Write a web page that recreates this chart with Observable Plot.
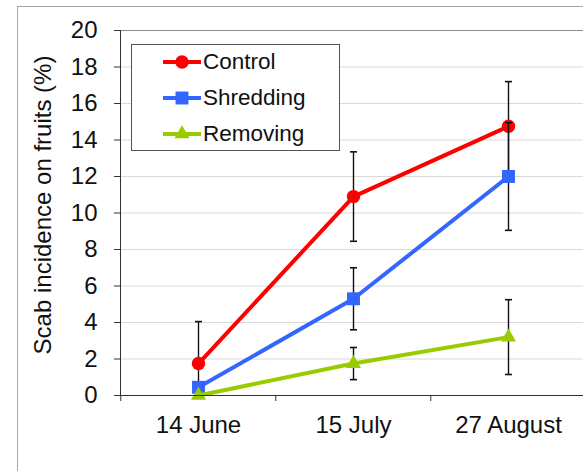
<!DOCTYPE html>
<html><head><meta charset="utf-8">
<script src="https://cdn.jsdelivr.net/npm/d3@7"></script>
<script src="https://cdn.jsdelivr.net/npm/@observablehq/plot@0.6"></script>
<style>
body{margin:0;background:#fff;font-family:"Liberation Sans",Arial,sans-serif;}
#wrap{position:relative;width:583px;height:471px;overflow:hidden;background:#fff;}
#chart{position:absolute;left:0;top:0;}
#border{position:absolute;left:17px;top:6px;width:700px;height:600px;border:1px solid #a6a6a6;}
#legend{position:absolute;left:131px;top:44px;width:209px;height:107px;border:1px solid #555;box-sizing:border-box;background:#fff;}
.row{position:absolute;left:31px;height:24px;display:flex;align-items:center;font-size:22.5px;color:#111;white-space:nowrap;}
.row svg{display:block;margin-right:2px;}
</style></head><body>
<div id="wrap"><div id="chart"></div><div id="border"></div><div id="legend"></div></div>
<script>
// ---- data ----
const dates = ["14 June", "15 July", "27 August"];
const seriesNames = ["Control", "Shredding", "Removing"];
const control = [1.75, 10.9, 14.75];
const controlErr = [2.3, 2.45, 2.45];
const shredding = [0.45, 5.3, 12.0];
const shreddingErr = [0.3, 1.7, 2.95];
const removing = [0, 1.75, 3.2];
const removingErr = [0, 0.88, 2.05];
const yTicks = [0, 2, 4, 6, 8, 10, 12, 14, 16, 18, 20];
const yTitle = "Scab incidence on fruits (%)";

// ---- styles ----
const colors = ["#ff0000", "#3366ff", "#99cc00"];
const symbols = ["circle", "square", "triangle"];
const radii = [6.7, 7.3, 5.6];

const values = [control, shredding, removing];
const errs = [controlErr, shreddingErr, removingErr];
const yMax = 20, yMin = 0;

const xLeft = 120, xRight = 586.5;
const bw = (xRight - xLeft) / dates.length;

const cap = {draw(ctx) { ctx.moveTo(-3.5, 0); ctx.lineTo(3.5, 0); }};

const marks = [
  Plot.gridY(yTicks, {stroke: "#d9d9d9", strokeOpacity: 1}),
  Plot.frame({anchor: "top", stroke: "#8c8c8c"}),
];

seriesNames.forEach((name, si) => {
  const pts = dates.map((d, i) => ({date: d, value: values[si][i], err: errs[si][i]}));
  const bars = pts.filter(p => p.err > 0).map(p => ({date: p.date, lo: Math.max(yMin, p.value - p.err), hi: Math.min(yMax, p.value + p.err), loIn: p.value - p.err >= yMin}));
  const caps = bars.flatMap(b => [{date: b.date, y: b.hi}].concat(b.loIn ? [{date: b.date, y: b.lo}] : []));
  marks.push(
    Plot.line(pts, {x: "date", y: "value", stroke: colors[si], strokeWidth: 4}),
    Plot.ruleX(bars, {x: "date", y1: "lo", y2: "hi", stroke: "#111", strokeWidth: 1.4}),
    Plot.dot(caps, {x: "date", y: "y", symbol: cap, stroke: "#111", strokeWidth: 1.6, r: 3}),
    Plot.dot(pts, {x: "date", y: "value", symbol: symbols[si], fill: colors[si], stroke: "none", r: radii[si]})
  );
});

marks.push(
  Plot.frame({anchor: "left", stroke: "#333"}),
  Plot.frame({anchor: "bottom", stroke: "#333"}),
  Plot.axisY({ticks: yTicks, tickSize: 6, tickPadding: 17, label: null, tickFormat: d => String(d), stroke: "#333", fontSize: 24}),
  Plot.axisX({tickSize: 0, tickPadding: 20, label: null, fontSize: 24}),
  Plot.axisX({tickSize: 6, tickFormat: () => "", dx: -bw / 2, label: null, stroke: "#333"}),
  Plot.text([yTitle], {frameAnchor: "left", textAnchor: "middle", rotate: -90, dx: -77, dy: -8, fontSize: 24, fill: "#111"})
);

const chart = Plot.plot({
  width: 583,
  height: 471,
  marginLeft: 120,
  marginTop: 30,
  marginBottom: 76,
  marginRight: 0,
  style: {fontFamily: "'Liberation Sans', Arial, sans-serif", fontSize: "24px", color: "#111", background: "transparent", overflow: "visible"},
  x: {type: "point", domain: dates, range: [xLeft, xRight], padding: 0.5},
  y: {domain: [yMin, yMax]},
  marks
});
document.getElementById("chart").appendChild(chart);

// ---- legend ----
const legend = document.getElementById("legend");
seriesNames.forEach((name, si) => {
  const row = document.createElement("div");
  row.className = "row";
  row.style.top = (18 + si * 36 - 13) + "px";
  const sym = d3.symbol(symbols[si] === "circle" ? d3.symbolCircle : symbols[si] === "square" ? d3.symbolSquare : d3.symbolTriangle, Math.PI * radii[si] * radii[si])();
  row.innerHTML = `<svg width="38" height="18"><line x1="0" x2="38" y1="9" y2="9" stroke="${colors[si]}" stroke-width="4"/><path d="${sym}" transform="translate(19,9)" fill="${colors[si]}"/></svg><span>${name}</span>`;
  legend.appendChild(row);
});
</script>
</body></html>
